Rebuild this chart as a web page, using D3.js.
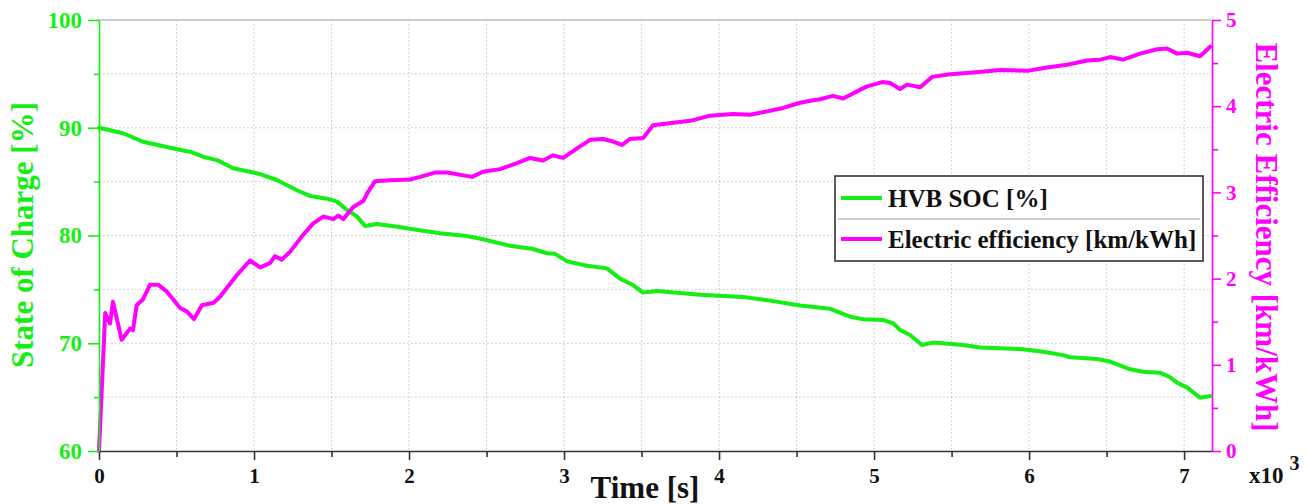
<!DOCTYPE html>
<html>
<head>
<meta charset="utf-8">
<script src="https://cdn.jsdelivr.net/npm/d3@7"></script>
<style>
  html, body { margin: 0; padding: 0; background: #fff; }
  svg { display: block; }
  text { font-family: "Liberation Serif", "Times New Roman", serif; font-weight: bold; }
</style>
</head>
<body>
<svg id="chart" width="1315" height="504"></svg>
<script>
// Time samples [s] and battery state of charge [%]
const socTime = [0, 155, 284, 503, 587, 671, 761, 865, 974, 1039, 1148, 1277, 1361, 1471, 1535,
  1600, 1665, 1716, 1794, 1923, 2090, 2200, 2372, 2477, 2652, 2800, 2890, 2942, 3019, 3148,
  3277, 3361, 3445, 3510, 3600, 3877, 4155, 4310, 4523, 4716, 4845, 4929, 5058, 5123, 5168,
  5232, 5310, 5381, 5574, 5684, 5961, 6090, 6219, 6265, 6439, 6523, 6652, 6735, 6845, 6910,
  6955, 7019, 7103, 7168];
const socValue = [90.0, 89.49, 88.7, 88.0, 87.78, 87.31, 87.0, 86.24, 85.92, 85.7, 85.15, 84.2,
  83.67, 83.42, 83.14, 82.37, 81.75, 80.88, 81.07, 80.82, 80.45, 80.2, 79.95, 79.65, 79.05,
  78.75, 78.35, 78.3, 77.6, 77.2, 76.95, 76.0, 75.4, 74.7, 74.85, 74.5, 74.3, 74.0, 73.5, 73.2,
  72.47, 72.22, 72.16, 71.85, 71.23, 70.77, 69.84, 70.06, 69.84, 69.6, 69.44, 69.22, 68.9,
  68.7, 68.54, 68.29, 67.58, 67.36, 67.27, 66.84, 66.34, 65.9, 64.94, 65.1];

// Time samples [s] and electric efficiency [km/kWh]
const effTime = [0, 40, 71, 90, 146, 200, 219, 243, 284, 329, 381, 437, 523, 566, 613, 664, 739,
  781, 824, 889, 974, 1039, 1103, 1135, 1179, 1232, 1318, 1382, 1447, 1512, 1544, 1576, 1640,
  1705, 1737, 1781, 1877, 2006, 2071, 2168, 2245, 2406, 2477, 2587, 2697, 2781, 2865, 2929,
  2994, 3084, 3168, 3252, 3316, 3374, 3426, 3510, 3574, 3665, 3813, 3942, 4090, 4200, 4310,
  4413, 4523, 4606, 4652, 4735, 4800, 4955, 5052, 5103, 5168, 5213, 5297, 5374, 5490, 5639,
  5813, 5987, 6116, 6245, 6374, 6458, 6523, 6606, 6716, 6826, 6890, 6955, 7019, 7103, 7168];
const effValue = [0, 1.6, 1.48, 1.73, 1.29, 1.42, 1.40, 1.69, 1.76, 1.93, 1.93, 1.85, 1.66, 1.62,
  1.53, 1.69, 1.72, 1.79, 1.89, 2.04, 2.21, 2.13, 2.18, 2.26, 2.22, 2.31, 2.51, 2.64, 2.72,
  2.69, 2.73, 2.69, 2.83, 2.90, 3.01, 3.13, 3.14, 3.15, 3.18, 3.23, 3.23, 3.18, 3.24, 3.27,
  3.34, 3.40, 3.37, 3.43, 3.40, 3.51, 3.61, 3.62, 3.59, 3.55, 3.62, 3.63, 3.78, 3.80, 3.83,
  3.89, 3.91, 3.90, 3.94, 3.98, 4.04, 4.07, 4.08, 4.12, 4.09, 4.23, 4.28, 4.27, 4.20, 4.25,
  4.22, 4.34, 4.37, 4.39, 4.42, 4.41, 4.45, 4.48, 4.53, 4.54, 4.57, 4.54, 4.61, 4.66, 4.67,
  4.61, 4.62, 4.58, 4.69];

// Axis ticks
const timeTicks = [0, 1000, 2000, 3000, 4000, 5000, 6000, 7000];
const timeMinorTicks = [500, 1500, 2500, 3500, 4500, 5500, 6500];
const socTicks = [60, 70, 80, 90, 100];
const socMinorTicks = [65, 75, 85, 95];
const effTicks = [0, 1, 2, 3, 4, 5];
const effMinorTicks = [0.5, 1.5, 2.5, 3.5, 4.5];

const seriesNames = ["HVB SOC [%]", "Electric efficiency [km/kWh]"];

const GREEN = "#14ee14";
const MAGENTA = "#ff00ff";
const SERIF = "'Liberation Serif', 'Times New Roman', serif";

const svg = d3.select("#chart");
const plot = { left: 99, right: 1212, top: 20, bottom: 451 };

const x = d3.scaleLinear().domain([0, 7180]).range([plot.left, plot.right]);
const ySoc = d3.scaleLinear().domain([60, 100]).range([plot.bottom, plot.top]);
const yEff = d3.scaleLinear().domain([0, 5]).range([plot.bottom, plot.top]);

// Dotted grid
const grid = svg.append("g").attr("stroke", "#c4c4c4").attr("stroke-width", 1)
  .attr("stroke-dasharray", "1.5,2.5");
grid.selectAll("line.v").data(timeTicks.concat(timeMinorTicks).filter(d => d > 0))
  .join("line").attr("class", "v")
  .attr("x1", d => x(d)).attr("x2", d => x(d))
  .attr("y1", plot.top).attr("y2", plot.bottom);
grid.selectAll("line.h").data(socTicks.concat(socMinorTicks).filter(d => d > 60 && d < 100))
  .join("line").attr("class", "h")
  .attr("x1", plot.left).attr("x2", plot.right)
  .attr("y1", d => ySoc(d)).attr("y2", d => ySoc(d));

// Top frame line
svg.append("line").attr("x1", plot.left).attr("x2", plot.right)
  .attr("y1", plot.top).attr("y2", plot.top)
  .attr("stroke", "#bdbdbd").attr("stroke-width", 1.5);

// Series
const socData = socTime.map((t, i) => [t, socValue[i]]);
const effData = effTime.map((t, i) => [t, effValue[i]]);

svg.append("path").datum(socData)
  .attr("fill", "none").attr("stroke", GREEN).attr("stroke-width", 4)
  .attr("stroke-linejoin", "round").attr("stroke-linecap", "round")
  .attr("d", d3.line().x(d => x(d[0])).y(d => ySoc(d[1])));

svg.append("path").datum(effData)
  .attr("fill", "none").attr("stroke", MAGENTA).attr("stroke-width", 4)
  .attr("stroke-linejoin", "round").attr("stroke-linecap", "round")
  .attr("d", d3.line().x(d => x(d[0])).y(d => yEff(d[1])));

// Axis helper: styles domain/tick colours after the axis is drawn
function styleAxis(g, color, width) {
  g.attr("font-family", null);
  g.select(".domain").attr("stroke", color).attr("stroke-width", width);
  g.selectAll(".tick line").attr("stroke", color).attr("stroke-width", width);
}

// Bottom axis
const xAxisG = svg.append("g").attr("transform", `translate(0,${plot.bottom})`)
  .call(d3.axisBottom(x).tickValues(timeTicks).tickSize(9).tickPadding(8)
    .tickSizeOuter(0).tickFormat(d => d / 1000));
styleAxis(xAxisG, "#333", 1.6);
xAxisG.selectAll("text").attr("fill", "#111").style("font-size", "21px")
  .style("font-family", SERIF).style("font-weight", "bold");
const xMinorG = svg.append("g").attr("transform", `translate(0,${plot.bottom})`)
  .call(d3.axisBottom(x).tickValues(timeMinorTicks).tickSize(6).tickFormat(""));
xMinorG.select(".domain").remove();
xMinorG.selectAll(".tick line").attr("stroke", "#333").attr("stroke-width", 1.6);

// Left axis (state of charge)
const yLeftG = svg.append("g").attr("transform", `translate(${plot.left},0)`)
  .call(d3.axisLeft(ySoc).tickValues(socTicks).tickSize(11).tickPadding(6)
    .tickSizeOuter(0).tickFormat(d3.format("d")));
styleAxis(yLeftG, GREEN, 1.6);
yLeftG.selectAll("text").attr("fill", GREEN).style("font-size", "23px")
  .style("font-family", SERIF).style("font-weight", "bold");
const yLeftMinor = svg.append("g").attr("transform", `translate(${plot.left},0)`)
  .call(d3.axisLeft(ySoc).tickValues(socMinorTicks).tickSize(5).tickFormat(""));
yLeftMinor.select(".domain").remove();
yLeftMinor.selectAll(".tick line").attr("stroke", GREEN).attr("stroke-width", 1.6);

// Right axis (electric efficiency)
const yRightG = svg.append("g").attr("transform", `translate(${plot.right},0)`)
  .call(d3.axisRight(yEff).tickValues(effTicks).tickSize(9).tickPadding(5)
    .tickSizeOuter(0).tickFormat(d3.format("d")));
styleAxis(yRightG, MAGENTA, 1.6);
yRightG.selectAll("text").attr("fill", MAGENTA).style("font-size", "21px")
  .style("font-family", SERIF).style("font-weight", "bold");
const yRightMinor = svg.append("g").attr("transform", `translate(${plot.right},0)`)
  .call(d3.axisRight(yEff).tickValues(effMinorTicks).tickSize(6).tickFormat(""));
yRightMinor.select(".domain").remove();
yRightMinor.selectAll(".tick line").attr("stroke", MAGENTA).attr("stroke-width", 1.6);

// Axis titles
svg.append("text").attr("transform", "translate(33,235) rotate(-90)")
  .attr("text-anchor", "middle").attr("fill", GREEN).style("font-size", "31px")
  .text("State of Charge [%]");
svg.append("text").attr("transform", "translate(1256,237) rotate(90)")
  .attr("text-anchor", "middle").attr("fill", MAGENTA).style("font-size", "31px")
  .text("Electric Efficiency [km/kWh]");
svg.append("text").attr("x", 645).attr("y", 498).attr("text-anchor", "middle")
  .attr("fill", "#111").style("font-size", "31px").text("Time [s]");

// Axis multiplier
const mult = svg.append("text").attr("x", 1249).attr("y", 483).attr("fill", "#111")
  .style("font-size", "23px");
mult.append("tspan").text("x10");
mult.append("tspan").attr("dx", 6).attr("dy", -13).style("font-size", "20px").text("3");

// Legend
const legend = svg.append("g");
legend.append("rect").attr("x", 835).attr("y", 176).attr("width", 368).attr("height", 85)
  .attr("fill", "#fff").attr("stroke", "#333").attr("stroke-width", 1.6);
legend.append("line").attr("x1", 838).attr("x2", 1200).attr("y1", 219).attr("y2", 219)
  .attr("stroke", "#9a9a9a").attr("stroke-width", 1.2);
const legendRows = [
  { name: seriesNames[0], color: GREEN, y: 198, base: 207 },
  { name: seriesNames[1], color: MAGENTA, y: 239, base: 248 }
];
legendRows.forEach(r => {
  legend.append("line").attr("x1", 841).attr("x2", 882).attr("y1", r.y).attr("y2", r.y)
    .attr("stroke", r.color).attr("stroke-width", 4);
  legend.append("text").attr("x", 888).attr("y", r.base).attr("fill", "#111")
    .style("font-size", "25px").text(r.name);
});
</script>
</body>
</html>
